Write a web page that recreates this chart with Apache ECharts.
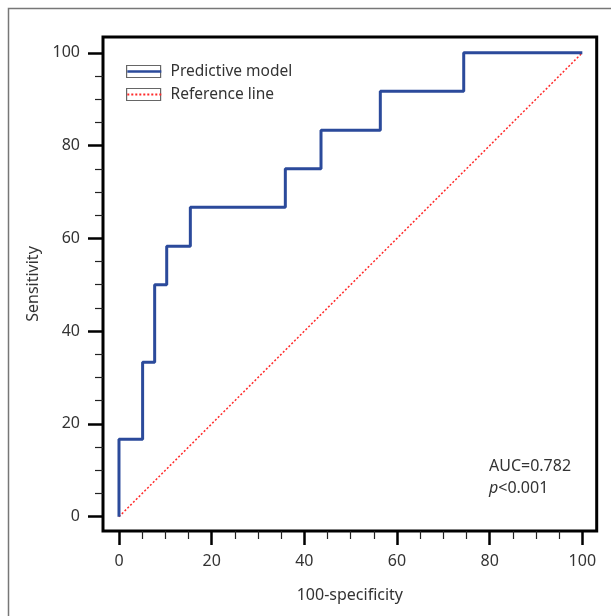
<!DOCTYPE html>
<html>
<head>
<meta charset="utf-8">
<script src="https://cdn.jsdelivr.net/npm/echarts@6/dist/echarts.min.js"></script>
<style>
  html, body { margin: 0; padding: 0; background: #fff; }
  #chart { width: 611px; height: 616px; }
</style>
</head>
<body>
<div id="chart"></div>
<script>
// ROC 曲线的拐点 (100-specificity, sensitivity)
const fpr = [0, 0, 5.1, 5.1, 7.7, 7.7, 10.3, 10.3, 15.4, 15.4, 35.9, 35.9, 43.6, 43.6, 56.4, 56.4, 74.4, 74.4, 100]
const tpr = [0, 16.7, 16.7, 33.3, 33.3, 50, 50, 58.3, 58.3, 66.7, 66.7, 75, 75, 83.3, 83.3, 91.7, 91.7, 100, 100]
const refX = [0, 100]
const refY = [0, 100]
const seriesNames = ['Predictive model', 'Reference line']
// 刻度
const majorTicks = [0, 20, 40, 60, 80, 100]
const minorTicks = [5, 10, 15, 25, 30, 35, 45, 50, 55, 65, 70, 75, 85, 90, 95]
const aucText = 'AUC=0.782'
const pText = '<0.001'

const font = '"Noto Sans", "Open Sans", sans-serif'
const blue = '#2b4a9b'
const red = '#ff2a2a'

const myChart = echarts.init(document.getElementById('chart'))

const legendBase = {
  orient: 'vertical',
  left: 126,
  top: 62.5,
  padding: 0,
  itemWidth: 34,
  itemHeight: 12,
  itemGap: 5,
  textStyle: { fontFamily: font, fontSize: 15.5, color: '#333', lineHeight: 18, padding: [0, 0, 0, 5] }
}

// 主刻度轴（带标签）
const mainAxis = (extra) => Object.assign({
  gridIndex: 0,
  type: 'value',
  nameLocation: 'middle',
  nameTextStyle: { fontFamily: font, fontSize: 16, color: '#333' },
  axisLine: { show: false, onZero: false },
  axisTick: { show: true, inside: false, length: 14, customValues: majorTicks, lineStyle: { color: '#000', width: 2.5 } },
  splitLine: { show: false },
  axisLabel: { customValues: majorTicks, fontFamily: font, fontSize: 16, color: '#333' }
}, extra)

// 次刻度轴（只画短刻度）
const minorAxis = (extra) => Object.assign({
  gridIndex: 0,
  type: 'value',
  axisLine: { show: false, onZero: false },
  axisTick: { show: true, inside: false, length: 8, customValues: minorTicks, lineStyle: { color: '#222', width: 1.2 } },
  splitLine: { show: false },
  axisLabel: { show: false }
}, extra)

const option = {
  animation: false,
  graphic: [
    {
      type: 'rect',
      shape: { x: 8.5, y: 8.5, width: 700, height: 700 },
      style: { fill: 'none', stroke: '#777', lineWidth: 1.5 },
      silent: true
    }
  ],
  title: {
    left: 489,
    top: 455,
    padding: 0,
    text: '{a|' + aucText + '}\n{b|p}{a|' + pText + '}',
    textStyle: {
      fontWeight: 'normal',
      rich: {
        a: { fontFamily: font, fontSize: 16, fontWeight: 'normal', color: '#333', lineHeight: 22 },
        b: { fontFamily: font, fontSize: 16, fontWeight: 'normal', color: '#333', lineHeight: 22, fontStyle: 'italic' }
      }
    }
  },
  legend: [
    // 灰色外框
    Object.assign({}, legendBase, {
      z: 3,
      data: seriesNames,
      icon: 'rect',
      itemStyle: { color: '#fff', borderColor: '#666', borderWidth: 1.2 }
    }),
    // 框内的线型
    Object.assign({}, legendBase, {
      z: 4,
      data: [
        { name: seriesNames[0], lineStyle: { color: blue, width: 2.6, type: 'solid', opacity: 1 } },
        { name: seriesNames[1], lineStyle: { color: red, width: 2, type: [2, 2], opacity: 1 } }
      ],
      itemStyle: { color: 'rgba(0,0,0,0)', borderColor: 'rgba(0,0,0,0)', borderWidth: 0 },
      textStyle: Object.assign({}, legendBase.textStyle, { color: 'rgba(0,0,0,0)' })
    })
  ],
  grid: {
    left: 103,
    right: 14.3,
    top: 37,
    bottom: 85,
    show: true,
    borderColor: '#000',
    borderWidth: 3,
    backgroundColor: 'transparent'
  },
  xAxis: [
    mainAxis({
      min: -3.45,
      max: 103.1,
      position: 'bottom',
      name: '100-specificity',
      nameGap: 56,
      axisLabel: { customValues: majorTicks, margin: 22, fontFamily: font, fontSize: 16, color: '#333' }
    }),
    minorAxis({ min: -3.45, max: 103.1, position: 'bottom' })
  ],
  yAxis: [
    mainAxis({
      min: -3.08,
      max: 103.4,
      position: 'left',
      name: 'Sensitivity',
      nameGap: 57,
      axisTick: { show: true, inside: false, length: 15, customValues: majorTicks, lineStyle: { color: '#000', width: 2.5 } },
      axisLabel: { customValues: majorTicks, margin: 23, fontFamily: font, fontSize: 16, color: '#333' }
    }),
    minorAxis({ min: -3.08, max: 103.4, position: 'left' })
  ],
  series: [
    {
      name: seriesNames[0],
      type: 'line',
      xAxisIndex: 0,
      yAxisIndex: 0,
      data: fpr.map((x, i) => [x, tpr[i]]),
      showSymbol: false,
      symbol: 'none',
      itemStyle: { color: blue },
      lineStyle: { color: blue, width: 3 },
      z: 3
    },
    {
      name: seriesNames[1],
      type: 'line',
      xAxisIndex: 0,
      yAxisIndex: 0,
      data: refX.map((x, i) => [x, refY[i]]),
      showSymbol: false,
      symbol: 'none',
      itemStyle: { color: red },
      lineStyle: { color: red, width: 1.5, type: [2, 2] },
      z: 2
    }
  ]
}

myChart.setOption(option)

window.onresize = () => {
  myChart.resize()
}
</script>
</body>
</html>
